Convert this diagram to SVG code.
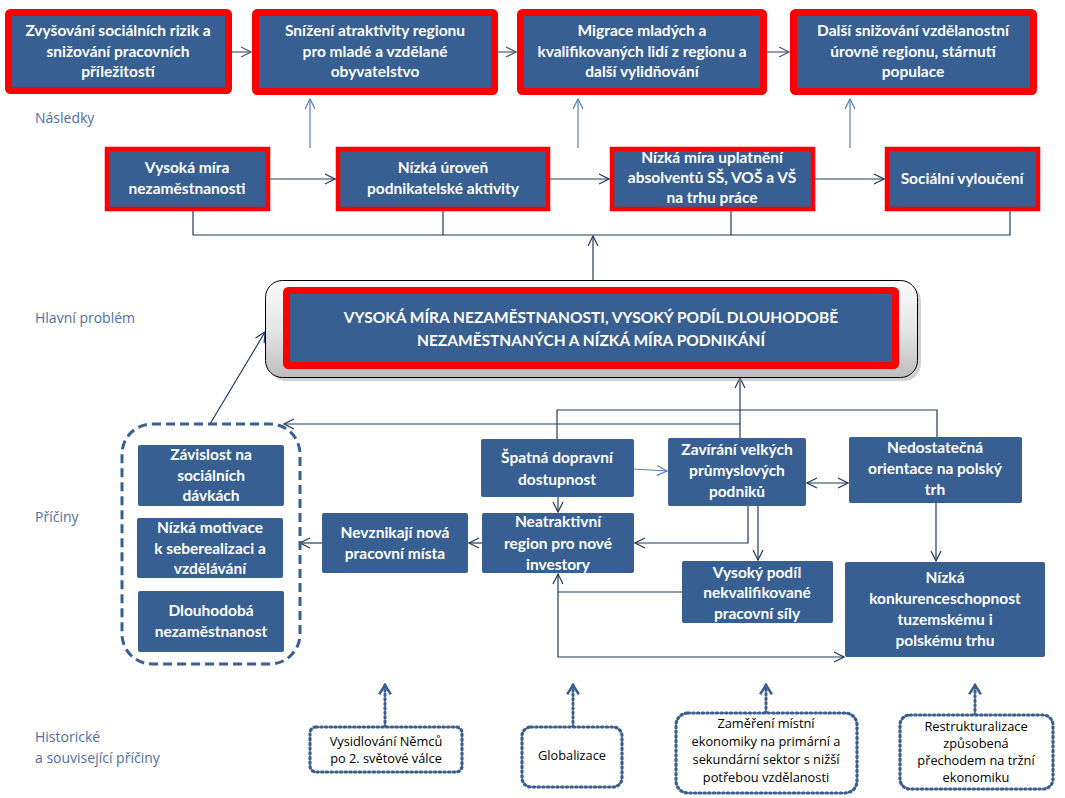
<svg xmlns="http://www.w3.org/2000/svg" width="1065" height="798" viewBox="0 0 1065 798">
<defs>
<linearGradient id="gGrey" x1="0" y1="0" x2="0" y2="1">
<stop offset="0" stop-color="#fbfbfb"/>
<stop offset="0.5" stop-color="#e6e6e6"/>
<stop offset="1" stop-color="#bdbdbd"/>
</linearGradient>
<marker id="aN" viewBox="0 0 12 12" markerWidth="12" markerHeight="12" refX="11" refY="6" orient="auto" markerUnits="userSpaceOnUse">
<path d="M1,1 L11,6 L1,11" fill="none" stroke="#1f3a60" stroke-width="1.2"/>
</marker>
<marker id="aNs" viewBox="0 0 12 12" markerWidth="12" markerHeight="12" refX="1" refY="6" orient="auto" markerUnits="userSpaceOnUse">
<path d="M11,1 L1,6 L11,11" fill="none" stroke="#1f3a60" stroke-width="1.2"/>
</marker>
<marker id="aB" viewBox="0 0 12 12" markerWidth="12" markerHeight="12" refX="11" refY="6" orient="auto" markerUnits="userSpaceOnUse">
<path d="M1,1 L11,6 L1,11" fill="none" stroke="#4f81bd" stroke-width="1.2"/>
</marker>
<marker id="aG" viewBox="0 0 12 12" markerWidth="12" markerHeight="12" refX="11" refY="6" orient="auto" markerUnits="userSpaceOnUse">
<path d="M1,1 L11,6 L1,11" fill="none" stroke="#4a5a78" stroke-width="1.2"/>
</marker>
<marker id="aD" viewBox="0 0 12 12" markerWidth="14" markerHeight="14" refX="10" refY="6" orient="auto" markerUnits="userSpaceOnUse">
<path d="M2,1 L10,6 L2,11" fill="none" stroke="#3a5f8f" stroke-width="2.2"/>
</marker>
</defs>
<style>
.red1{fill:#375f92;stroke:#ff0000;stroke-width:7}
.red2{fill:#375f92;stroke:#ff0000;stroke-width:4.5}
.blu{fill:#375f92}
.t{font-family:Lato,"Liberation Sans",sans-serif;font-weight:bold;font-size:15.5px;fill:#ffffff;text-anchor:middle}
.tm{font-family:Lato,"Liberation Sans",sans-serif;font-weight:bold;font-size:15.5px;fill:#ffffff;text-anchor:middle}
.lab{font-family:"Open Sans","Liberation Sans",sans-serif;font-size:14px;fill:#4f6ea5}
.tb{font-family:"Open Sans","Liberation Sans",sans-serif;font-size:12.8px;fill:#000000;text-anchor:middle}
.dot{fill:#ffffff;stroke:#3a5f8f;stroke-width:3.2;stroke-dasharray:1.5 3.2;stroke-linecap:round}
.dash{fill:none;stroke:#3a5f8f;stroke-width:3;stroke-dasharray:9 5}
.cn{fill:none;stroke:#1f3a60;stroke-width:1.2}
.cb{fill:none;stroke:#4f81bd;stroke-width:1.2}
.cg{fill:none;stroke:#4a5a78;stroke-width:1.2}
.cd{fill:none;stroke:#3a5f8f;stroke-width:3;stroke-dasharray:1.5 3;stroke-linecap:round}
</style>
<rect width="1065" height="798" fill="#ffffff"/>

<!-- side labels -->
<text class="lab" x="35" y="123">Následky</text>
<text class="lab" x="35" y="323">Hlavní problém</text>
<text class="lab" x="35" y="522">Příčiny</text>
<text class="lab" x="35" y="742">Historické</text>
<text class="lab" x="35" y="763">a související příčiny</text>

<!-- connectors -->
<g id="connectors">
<line class="cg" x1="232" y1="52" x2="251" y2="52" marker-end="url(#aG)"/>
<line class="cg" x1="498" y1="52" x2="516" y2="52" marker-end="url(#aG)"/>
<line class="cg" x1="767" y1="52" x2="789" y2="52" marker-end="url(#aG)"/>
<line class="cb" x1="310" y1="148" x2="310" y2="99" marker-end="url(#aB)"/>
<line class="cb" x1="578" y1="148" x2="578" y2="99" marker-end="url(#aB)"/>
<line class="cb" x1="850" y1="148" x2="850" y2="99" marker-end="url(#aB)"/>
<line class="cn" x1="270" y1="179" x2="335" y2="179" marker-end="url(#aN)"/>
<line class="cn" x1="550" y1="179" x2="609" y2="179" marker-end="url(#aN)"/>
<line class="cn" x1="815" y1="179" x2="884" y2="179" marker-end="url(#aN)"/>
<polyline class="cn" points="193,211 193,235 1010,235 1010,211"/>
<line class="cn" x1="443" y1="211" x2="443" y2="235"/>
<line class="cn" x1="731" y1="211" x2="731" y2="235"/>
<line class="cn" x1="593" y1="280" x2="593" y2="236" marker-end="url(#aN)"/>
<line class="cn" x1="210" y1="424" x2="265" y2="332" marker-end="url(#aN)"/>
<polyline class="cn" points="740,438 740,424 284,424" marker-end="url(#aN)"/>
<line class="cn" x1="740" y1="424" x2="740" y2="378" marker-end="url(#aN)"/>
<polyline class="cn" points="557,439 557,410 937,410 937,437"/>
<line class="cb" x1="634" y1="469" x2="667" y2="471" marker-end="url(#aB)"/>
<line class="cn" x1="807" y1="483" x2="848" y2="483" marker-start="url(#aNs)" marker-end="url(#aN)"/>
<line class="cn" x1="558" y1="497" x2="558" y2="512" marker-end="url(#aN)"/>
<polyline class="cn" points="748,506 748,543 635,543" marker-end="url(#aN)"/>
<line class="cn" x1="758" y1="506" x2="758" y2="560" marker-end="url(#aN)"/>
<line class="cn" x1="936" y1="503" x2="936" y2="561" marker-end="url(#aN)"/>
<line class="cn" x1="482" y1="543" x2="469" y2="543" marker-end="url(#aN)"/>
<line class="cn" x1="322" y1="543" x2="300" y2="543" marker-end="url(#aN)"/>
<polyline class="cn" points="682,592 558,592 558,574" marker-end="url(#aN)"/>
<polyline class="cn" points="558,592 558,657 844,657" marker-end="url(#aN)"/>
<line class="cd" x1="385" y1="727" x2="385" y2="685" marker-end="url(#aD)"/>
<line class="cd" x1="573" y1="727" x2="573" y2="685" marker-end="url(#aD)"/>
<line class="cd" x1="766" y1="713" x2="766" y2="685" marker-end="url(#aD)"/>
<line class="cd" x1="975" y1="715" x2="975" y2="685" marker-end="url(#aD)"/>
</g>

<!-- top row -->
<g id="n-b1"><rect class="red1" x="8.5" y="12.5" width="220" height="78" rx="2"/>
<text class="t" x="118" y="36">Zvyšování sociálních rizik a</text>
<text class="t" x="118" y="56.5">snižování pracovních</text>
<text class="t" x="118" y="77">příležitostí</text></g>
<g id="n-b2"><rect class="red1" x="255.5" y="12.5" width="239" height="79" rx="2"/>
<text class="t" x="375" y="36">Snížení atraktivity regionu</text>
<text class="t" x="375" y="56.5">pro mladé a vzdělané</text>
<text class="t" x="375" y="77">obyvatelstvo</text></g>
<g id="n-b3"><rect class="red1" x="520.5" y="12.5" width="243" height="79" rx="2"/>
<text class="t" x="642" y="36">Migrace mladých a</text>
<text class="t" x="642" y="56.5">kvalifikovaných lidí z regionu a</text>
<text class="t" x="642" y="77">další vylidňování</text></g>
<g id="n-b4"><rect class="red1" x="793.5" y="12.5" width="240" height="79" rx="2"/>
<text class="t" x="913" y="36">Další snižování vzdělanostní</text>
<text class="t" x="913" y="56.5">úrovně regionu, stárnutí</text>
<text class="t" x="913" y="77">populace</text></g>

<!-- second row -->
<g id="n-c1"><rect class="red2" x="107" y="149" width="161" height="60"/>
<text class="t" x="187" y="173">Vysoká míra</text>
<text class="t" x="187" y="194">nezaměstnanosti</text></g>
<g id="n-c2"><rect class="red2" x="338" y="149" width="210" height="60"/>
<text class="t" x="443" y="173">Nízká úroveň</text>
<text class="t" x="443" y="194">podnikatelské aktivity</text></g>
<g id="n-c3"><rect class="red2" x="612" y="149" width="201" height="60"/>
<text class="t" x="712" y="163">Nízká míra uplatnění</text>
<text class="t" x="712" y="183">absolventů SŠ, VOŠ a VŠ</text>
<text class="t" x="712" y="203">na trhu práce</text></g>
<g id="n-c4"><rect class="red2" x="887" y="149" width="151" height="60"/>
<text class="t" x="962" y="184">Sociální vyloučení</text></g>

<!-- main problem -->
<g id="n-main">
<rect x="269" y="284" width="652" height="97" rx="17" fill="#9a9a9a" opacity="0.45"/>
<rect x="265.5" y="280.5" width="652" height="97" rx="17" fill="url(#gGrey)" stroke="#000000" stroke-width="1"/>
<rect class="red1" x="286.5" y="290.5" width="609" height="75" rx="2"/>
<text class="tm" x="591" y="323">VYSOKÁ MÍRA NEZAMĚSTNANOSTI, VYSOKÝ PODÍL DLOUHODOBĚ</text>
<text class="tm" x="591" y="346">NEZAMĚSTNANÝCH A NÍZKÁ MÍRA PODNIKÁNÍ</text>
</g>

<!-- causes -->
<g id="g-social">
<rect class="dash" x="122" y="424" width="178" height="240" rx="30"/>
</g>
<g id="n-d1"><rect class="blu" x="138" y="445" width="146" height="61" rx="2"/>
<text class="t" x="211" y="460">Závislost na</text>
<text class="t" x="211" y="481">sociálních</text>
<text class="t" x="211" y="501">dávkách</text></g>
<g id="n-d2"><rect class="blu" x="137" y="518" width="146" height="60" rx="2"/>
<text class="t" x="210" y="533">Nízká motivace</text>
<text class="t" x="210" y="554">k seberealizaci a</text>
<text class="t" x="210" y="574">vzdělávání</text></g>
<g id="n-d3"><rect class="blu" x="138" y="591" width="146" height="61" rx="2"/>
<text class="t" x="211" y="616">Dlouhodobá</text>
<text class="t" x="211" y="637">nezaměstnanost</text></g>
<g id="n-nev"><rect class="blu" x="322" y="513" width="146" height="60" rx="2"/>
<text class="t" x="395" y="538">Nevznikají nová</text>
<text class="t" x="395" y="559">pracovní místa</text></g>
<g id="n-spa"><rect class="blu" x="481" y="439" width="153" height="58" rx="2"/>
<text class="t" x="557" y="463">Špatná dopravní</text>
<text class="t" x="557" y="485">dostupnost</text></g>
<g id="n-zav"><rect class="blu" x="668" y="438" width="138" height="68" rx="2"/>
<text class="t" x="737" y="455">Zavírání velkých</text>
<text class="t" x="737" y="476">průmyslových</text>
<text class="t" x="737" y="497">podniků</text></g>
<g id="n-ned"><rect class="blu" x="849" y="437" width="173" height="66" rx="2"/>
<text class="t" x="935" y="453">Nedostatečná</text>
<text class="t" x="935" y="474">orientace na polský</text>
<text class="t" x="935" y="495">trh</text></g>
<g id="n-nea"><rect class="blu" x="482" y="513" width="152" height="60" rx="2"/>
<text class="t" x="558" y="527">Neatraktivní</text>
<text class="t" x="558" y="549">region pro nové</text>
<text class="t" x="558" y="570">investory</text></g>
<g id="n-vys"><rect class="blu" x="682" y="561" width="151" height="62" rx="2"/>
<text class="t" x="757" y="578">Vysoký podíl</text>
<text class="t" x="757" y="598">nekvalifikované</text>
<text class="t" x="757" y="619">pracovní síly</text></g>
<g id="n-niz"><rect class="blu" x="845" y="562" width="200" height="95" rx="2"/>
<text class="t" x="945" y="583">Nízká</text>
<text class="t" x="945" y="604">konkurenceschopnost</text>
<text class="t" x="945" y="625">tuzemskému i</text>
<text class="t" x="945" y="646">polskému trhu</text></g>

<!-- historical -->
<g id="n-e1"><rect class="dot" x="310" y="727" width="152" height="45" rx="6"/>
<text class="tb" x="386" y="746">Vysidlování Němců</text>
<text class="tb" x="386" y="763">po 2. světové válce</text></g>
<g id="n-e2"><rect class="dot" x="522" y="727" width="100" height="60" rx="9"/>
<text class="tb" x="572" y="760">Globalizace</text></g>
<g id="n-e3"><rect class="dot" x="676" y="713" width="181" height="80" rx="12"/>
<text class="tb" x="766" y="728">Zaměření místní</text>
<text class="tb" x="766" y="746">ekonomiky na primární a</text>
<text class="tb" x="766" y="764">sekundární sektor s nižší</text>
<text class="tb" x="766" y="782">potřebou vzdělanosti</text></g>
<g id="n-e4"><rect class="dot" x="900" y="715" width="153" height="74" rx="10"/>
<text class="tb" x="976" y="731">Restrukturalizace</text>
<text class="tb" x="976" y="748">způsobená</text>
<text class="tb" x="976" y="765">přechodem na tržní</text>
<text class="tb" x="976" y="782">ekonomiku</text></g>
</svg>
